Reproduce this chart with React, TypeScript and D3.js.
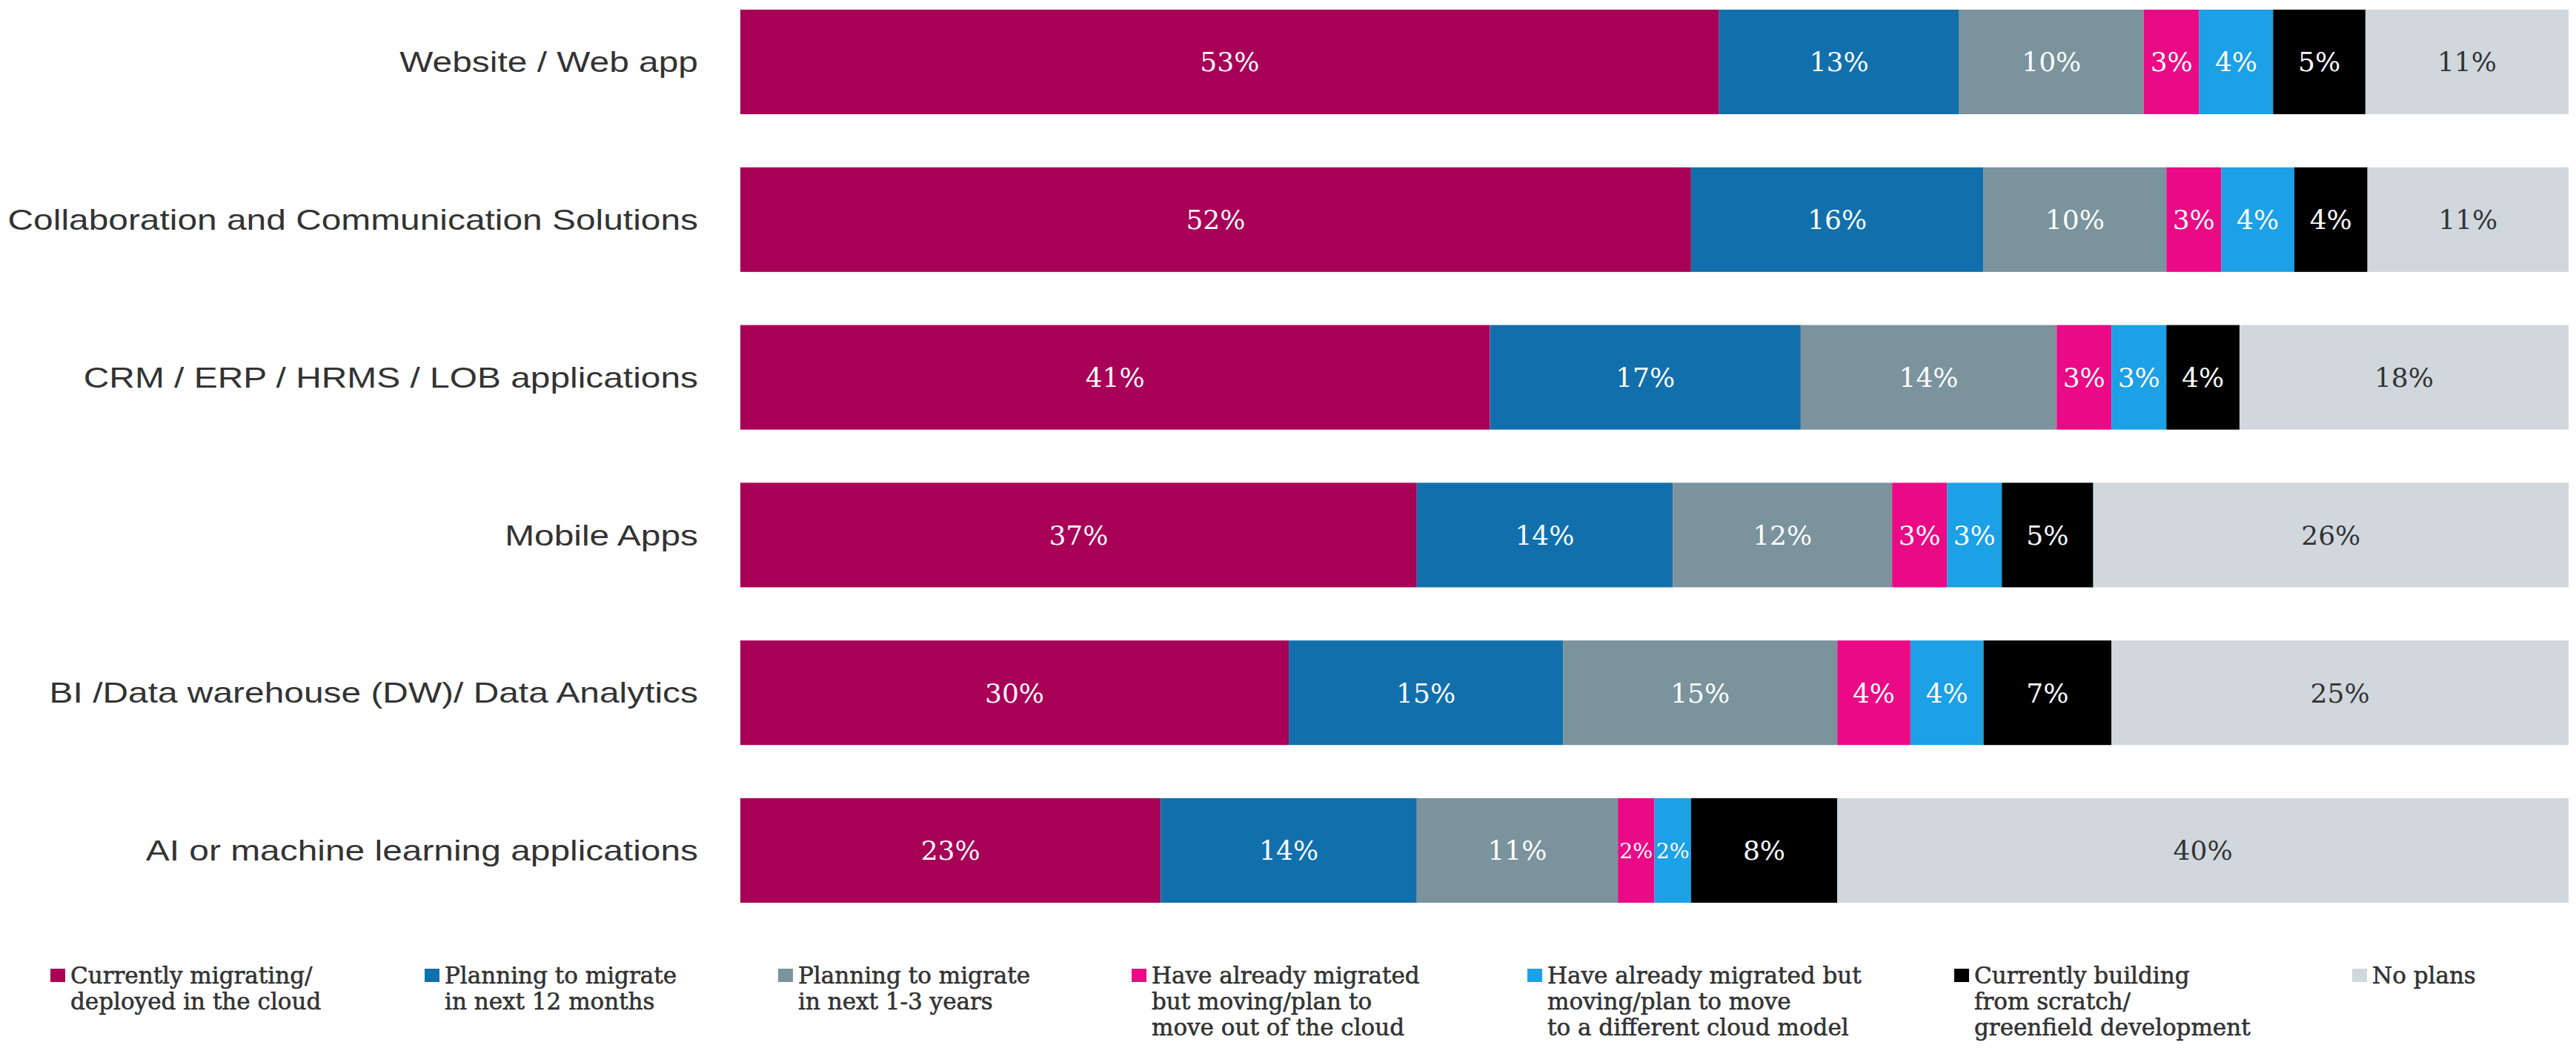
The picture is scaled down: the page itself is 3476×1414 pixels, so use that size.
import React from "react";
import * as d3 from "d3";

const categories = [
  "Website / Web app",
  "Collaboration and Communication Solutions",
  "CRM / ERP / HRMS / LOB applications",
  "Mobile Apps",
  "BI /Data warehouse (DW)/ Data Analytics",
  "AI or machine learning applications",
];

const seriesKeys = ["current", "plan12", "plan13", "moveOut", "moveOther", "building", "noPlans"];

const currentlyMigrating = [53, 52, 41, 37, 30, 23];
const planning12Months = [13, 16, 17, 14, 15, 14];
const planning1to3Years = [10, 10, 14, 12, 15, 11];
const movingOutOfCloud = [3, 3, 3, 3, 4, 2];
const movingToOtherModel = [4, 4, 3, 3, 4, 2];
const buildingFromScratch = [5, 4, 4, 5, 7, 8];
const noPlans = [11, 11, 18, 26, 25, 40];

const legendLines = [
  ["Currently migrating/", "deployed in the cloud"],
  ["Planning to migrate", "in next 12 months"],
  ["Planning to migrate", "in next 1-3 years"],
  ["Have already migrated", "but moving/plan to", "move out of the cloud"],
  ["Have already migrated but", "moving/plan to move", "to a different cloud model"],
  ["Currently building", "from scratch/", "greenfield development"],
  ["No plans"],
];

const colors = ["#A80057", "#1170AC", "#7A939D", "#EA0A86", "#1CA0E6", "#000000", "#D0D7DD"];
const labelColors = ["#fff", "#fff", "#fff", "#fff", "#fff", "#fff", "#333"];
const legendX = [68, 573, 1050, 1527, 2061, 2637, 3174];

const W = 3476;
const H = 1414;

export default function App() {
  const seriesValues = [
    currentlyMigrating,
    planning12Months,
    planning1to3Years,
    movingOutOfCloud,
    movingToOtherModel,
    buildingFromScratch,
    noPlans,
  ];
  const rows = categories.map((c, i) => {
    const r: any = { category: c };
    seriesKeys.forEach((k, j) => (r[k] = seriesValues[j][i]));
    return r;
  });
  const stack = d3.stack().keys(seriesKeys).offset(d3.stackOffsetExpand);
  const stacked = stack(rows as any);

  const x = d3.scaleLinear().domain([0, 1]).range([999, 3466]);
  const y = d3.scaleBand().domain(categories).range([13, 1218]).paddingInner(0.337).paddingOuter(0);
  const bw = y.bandwidth();

  return (
    <svg
      width={W}
      height={H}
      style={{ position: "absolute", left: 0, top: 0, background: "#fff" }}
    >
      <rect x={0} y={0} width={W} height={H} fill="#fff" />
      {stacked.map((s, j) => (
        <g key={s.key}>
          {s.map((d, i) => {
            const x0 = x(d[0]);
            const x1 = x(d[1]);
            const cy = (y(categories[i]) as number) + bw / 2;
            const label = `${seriesValues[j][i]}%`;
            const emWidth = label.length === 2 ? 1.6 : 2.25;
            const fs = Math.min(36, (x1 - x0 - 4) / emWidth);
            return (
              <g key={i}>
                <rect x={x0} y={y(categories[i])} width={x1 - x0} height={bw} fill={colors[j]} />
                <text
                  x={(x0 + x1) / 2}
                  y={cy}
                  dy="0.36em"
                  textAnchor="middle"
                  fontFamily="'DejaVu Serif', serif"
                  fontSize={fs}
                  fill={labelColors[j]}
                >
                  {label}
                </text>
              </g>
            );
          })}
        </g>
      ))}
      {categories.map((c) => (
        <g key={c} transform={`translate(942, ${(y(c) as number) + bw / 2}) scale(1.26, 1)`}>
          <text
            x={0}
            y={0}
            dy="0.36em"
            textAnchor="end"
            fontFamily="'Liberation Sans', Arial, sans-serif"
            fontSize={38}
            fill="#333"
          >
            {c}
          </text>
        </g>
      ))}
      {legendLines.map((lines, j) => (
        <g key={j} transform={`translate(${legendX[j]}, 0)`}>
          <rect x={0} y={1307} width={20} height={18} fill={colors[j]} />
          {lines.map((ln, k) => (
            <text
              key={k}
              x={27}
              y={1327 + k * 35}
              fontFamily="'DejaVu Serif', serif"
              fontSize={31}
              fill="#333"
              stroke="#333"
              strokeWidth={0.6}
            >
              {ln}
            </text>
          ))}
        </g>
      ))}
    </svg>
  );
}
